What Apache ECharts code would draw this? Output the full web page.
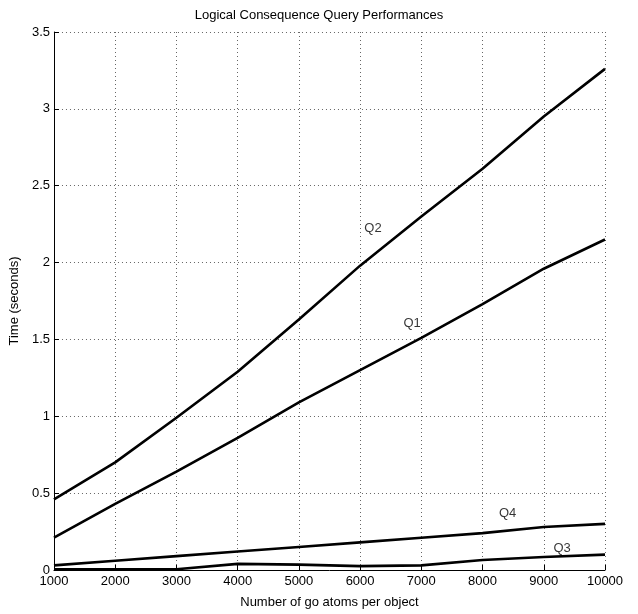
<!DOCTYPE html>
<html><head><meta charset="utf-8">
<script src="https://cdn.jsdelivr.net/npm/echarts@6/dist/echarts.min.js"></script>
<style>html,body{margin:0;padding:0;background:#fff}#c{width:638px;height:614px}</style>
</head><body><div id="c"></div>
<script>
const xValues = [1000,2000,3000,4000,5000,6000,7000,8000,9000,10000];
const q1 = [0.21,0.43,0.64,0.86,1.09,1.30,1.51,1.73,1.96,2.15];
const q2 = [0.46,0.70,0.99,1.29,1.63,1.98,2.30,2.61,2.95,3.26];
const q3 = [0.005,0.005,0.005,0.04,0.035,0.025,0.03,0.065,0.085,0.10];
const q4 = [0.03,0.06,0.09,0.12,0.15,0.18,0.21,0.24,0.28,0.30];
const labelNames = ['Q2','Q1','Q4','Q3'];
const labelX = [6210,6850,8410,9300];
const labelY = [2.225,1.607,0.371,0.143];

const FONT = '"Liberation Sans Narrow","Liberation Sans",Arial,sans-serif';
const chart = echarts.init(document.getElementById('c'), null, {renderer:'canvas'});
const pair = a => xValues.map((x,i)=>[x,a[i]]);
const lineSeries = (name, d) => ({type:'line', name, data:pair(d), showSymbol:false, symbol:'none',
  lineStyle:{color:'#000', width:2.6}, silent:true, z:3});
chart.setOption({
  animation:false,
  title:{text:'Logical Consequence Query Performances', left:'center', top:4,
    textStyle:{fontFamily:FONT, fontSize:13, fontWeight:'normal', color:'#000'}},
  grid:{left:52, right:33, top:32, bottom:44},
  xAxis:{type:'value', min:1000, max:10000, interval:1000,
    name:'Number of go atoms per object', nameLocation:'middle', nameGap:26,
    nameTextStyle:{fontFamily:FONT, fontSize:13, color:'#000'},
    axisLine:{lineStyle:{color:'#000', width:1}},
    axisTick:{inside:true, length:5, lineStyle:{color:'#000'}},
    axisLabel:{fontFamily:FONT, fontSize:13, color:'#000', margin:5, formatter:v=>String(v)},
    splitLine:{show:true, lineStyle:{type:[1,3], color:'#666', width:1}}},
  yAxis:{type:'value', min:0, max:3.5, interval:0.5,
    name:'Time (seconds)', nameLocation:'middle', nameGap:32,
    nameTextStyle:{fontFamily:FONT, fontSize:13, color:'#000'},
    axisLine:{show:true, lineStyle:{color:'#000', width:1}},
    axisTick:{show:true, inside:true, length:5, lineStyle:{color:'#000'}},
    axisLabel:{fontFamily:FONT, fontSize:13, color:'#000', margin:4, formatter:v=>String(v)},
    splitLine:{show:true, lineStyle:{type:[1,3], color:'#666', width:1}}},
  series:[
    lineSeries('Q1', q1), lineSeries('Q2', q2), lineSeries('Q3', q3), lineSeries('Q4', q4),
    {type:'scatter', symbolSize:0, silent:true,
     data:labelNames.map((n,i)=>({value:[labelX[i],labelY[i]], name:n})),
     label:{show:true, position:'inside', formatter:'{b}', fontFamily:FONT, fontSize:13, color:'#000'}}
  ]
});
</script></body></html>
